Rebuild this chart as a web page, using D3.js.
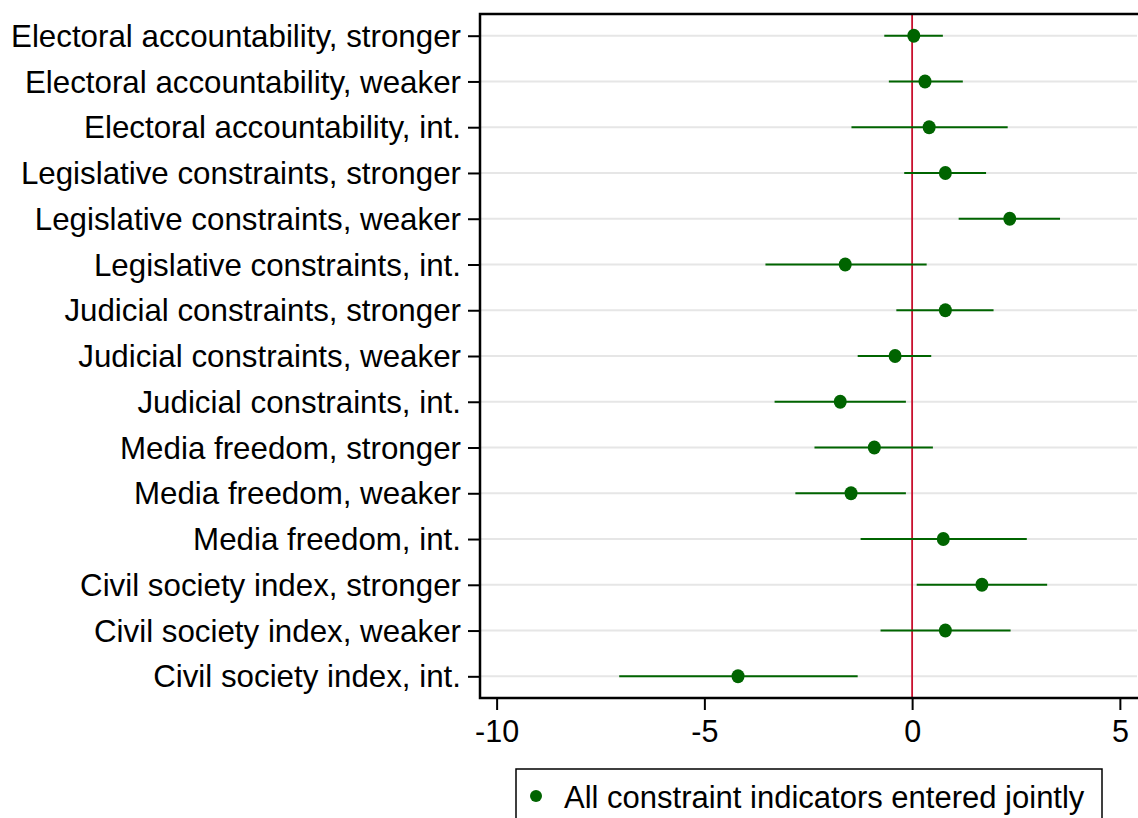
<!DOCTYPE html>
<html>
<head>
<meta charset="utf-8">
<script src="https://cdn.jsdelivr.net/npm/d3@7"></script>
<style>
  html, body { margin: 0; padding: 0; background: #fff; }
  svg { display: block; font-family: "Liberation Sans", Arial, sans-serif; }
</style>
</head>
<body>
<svg id="chart" width="1138" height="818"></svg>
<script>
// Coefficient estimates with 95% confidence intervals
const categories = [
  "Electoral accountability, stronger",
  "Electoral accountability, weaker",
  "Electoral accountability, int.",
  "Legislative constraints, stronger",
  "Legislative constraints, weaker",
  "Legislative constraints, int.",
  "Judicial constraints, stronger",
  "Judicial constraints, weaker",
  "Judicial constraints, int.",
  "Media freedom, stronger",
  "Media freedom, weaker",
  "Media freedom, int.",
  "Civil society index, stronger",
  "Civil society index, weaker",
  "Civil society index, int."
];
const estimates = [0.04, 0.31, 0.41, 0.80, 2.35, -1.61, 0.80, -0.41, -1.73, -0.91, -1.47, 0.75, 1.68, 0.80, -4.19];
const lowerCI   = [-0.67, -0.56, -1.46, -0.19, 1.12, -3.53, -0.38, -1.31, -3.31, -2.35, -2.81, -1.24, 0.11, -0.76, -7.05];
const upperCI   = [0.74, 1.22, 2.30, 1.78, 3.56, 0.35, 1.96, 0.46, -0.15, 0.50, -0.15, 2.76, 3.25, 2.37, -1.31];
const xTicks = [-10, -5, 0, 5];
const legendLabel = "All constraint indicators entered jointly";

const rows = categories.map((c, i) => ({ label: c, est: estimates[i], lo: lowerCI[i], hi: upperCI[i] }));

const svg = d3.select("#chart");
const plot = { left: 480, right: 1137, top: 14, bottom: 698 };
const green = "#006400";
const font = "'Liberation Sans', Arial, sans-serif";

const x = d3.scaleLinear().domain([-10.4, 5.4]).range([plot.left, plot.left + (15.8 * 41.55)]);
const y = d3.scalePoint().domain(categories).range([plot.top, plot.bottom]).padding(0.474);

// horizontal grid lines
svg.append("g").selectAll("line").data(categories).join("line")
  .attr("x1", plot.left).attr("x2", plot.right)
  .attr("y1", d => y(d)).attr("y2", d => y(d))
  .attr("stroke", "#e6e6e6").attr("stroke-width", 2);

// reference line at zero
svg.append("line")
  .attr("x1", x(0)).attr("x2", x(0))
  .attr("y1", plot.top).attr("y2", plot.bottom)
  .attr("stroke", "#c8102e").attr("stroke-width", 1.8);

// confidence intervals
svg.append("g").selectAll("line").data(rows).join("line")
  .attr("x1", d => x(d.lo)).attr("x2", d => x(d.hi))
  .attr("y1", d => y(d.label)).attr("y2", d => y(d.label))
  .attr("stroke", green).attr("stroke-width", 2);

// point estimates
svg.append("g").selectAll("ellipse").data(rows).join("ellipse")
  .attr("cx", d => x(d.est)).attr("cy", d => y(d.label))
  .attr("rx", 6.5).attr("ry", 7)
  .attr("fill", green);

// y axis
const yAxis = svg.append("g")
  .attr("transform", `translate(${plot.left},0)`)
  .call(d3.axisLeft(y).tickSize(12).tickPadding(7));
yAxis.select(".domain").remove();
yAxis.selectAll(".tick line").attr("stroke", "#000").attr("stroke-width", 2);
yAxis.selectAll(".tick text").attr("font-size", 31.3).attr("fill", "#000")
  .attr("font-family", font).attr("dy", "0.34em");

// x axis
const xAxis = svg.append("g")
  .attr("transform", `translate(0,${plot.bottom})`)
  .call(d3.axisBottom(x).tickValues(xTicks).tickSize(12).tickPadding(10).tickFormat(d => String(d)));
xAxis.select(".domain").remove();
xAxis.selectAll(".tick line").attr("stroke", "#000").attr("stroke-width", 2);
xAxis.selectAll(".tick text").attr("font-size", 30.5).attr("fill", "#000")
  .attr("font-family", font);

// plot frame (top, left, bottom)
svg.append("path")
  .attr("d", `M${plot.right + 2},${plot.top} H${plot.left} V${plot.bottom} H${plot.right + 2}`)
  .attr("fill", "none").attr("stroke", "#000").attr("stroke-width", 2.5);

// legend
const lg = svg.append("g");
lg.append("rect")
  .attr("x", 516).attr("y", 769).attr("width", 586).attr("height", 60)
  .attr("fill", "#fff").attr("stroke", "#000").attr("stroke-width", 1.5);
lg.append("circle").attr("cx", 536).attr("cy", 796).attr("r", 6).attr("fill", green);
lg.append("text").attr("x", 564).attr("y", 808)
  .attr("font-size", 31).attr("font-family", font).attr("fill", "#000").text(legendLabel);
</script>
</body>
</html>
